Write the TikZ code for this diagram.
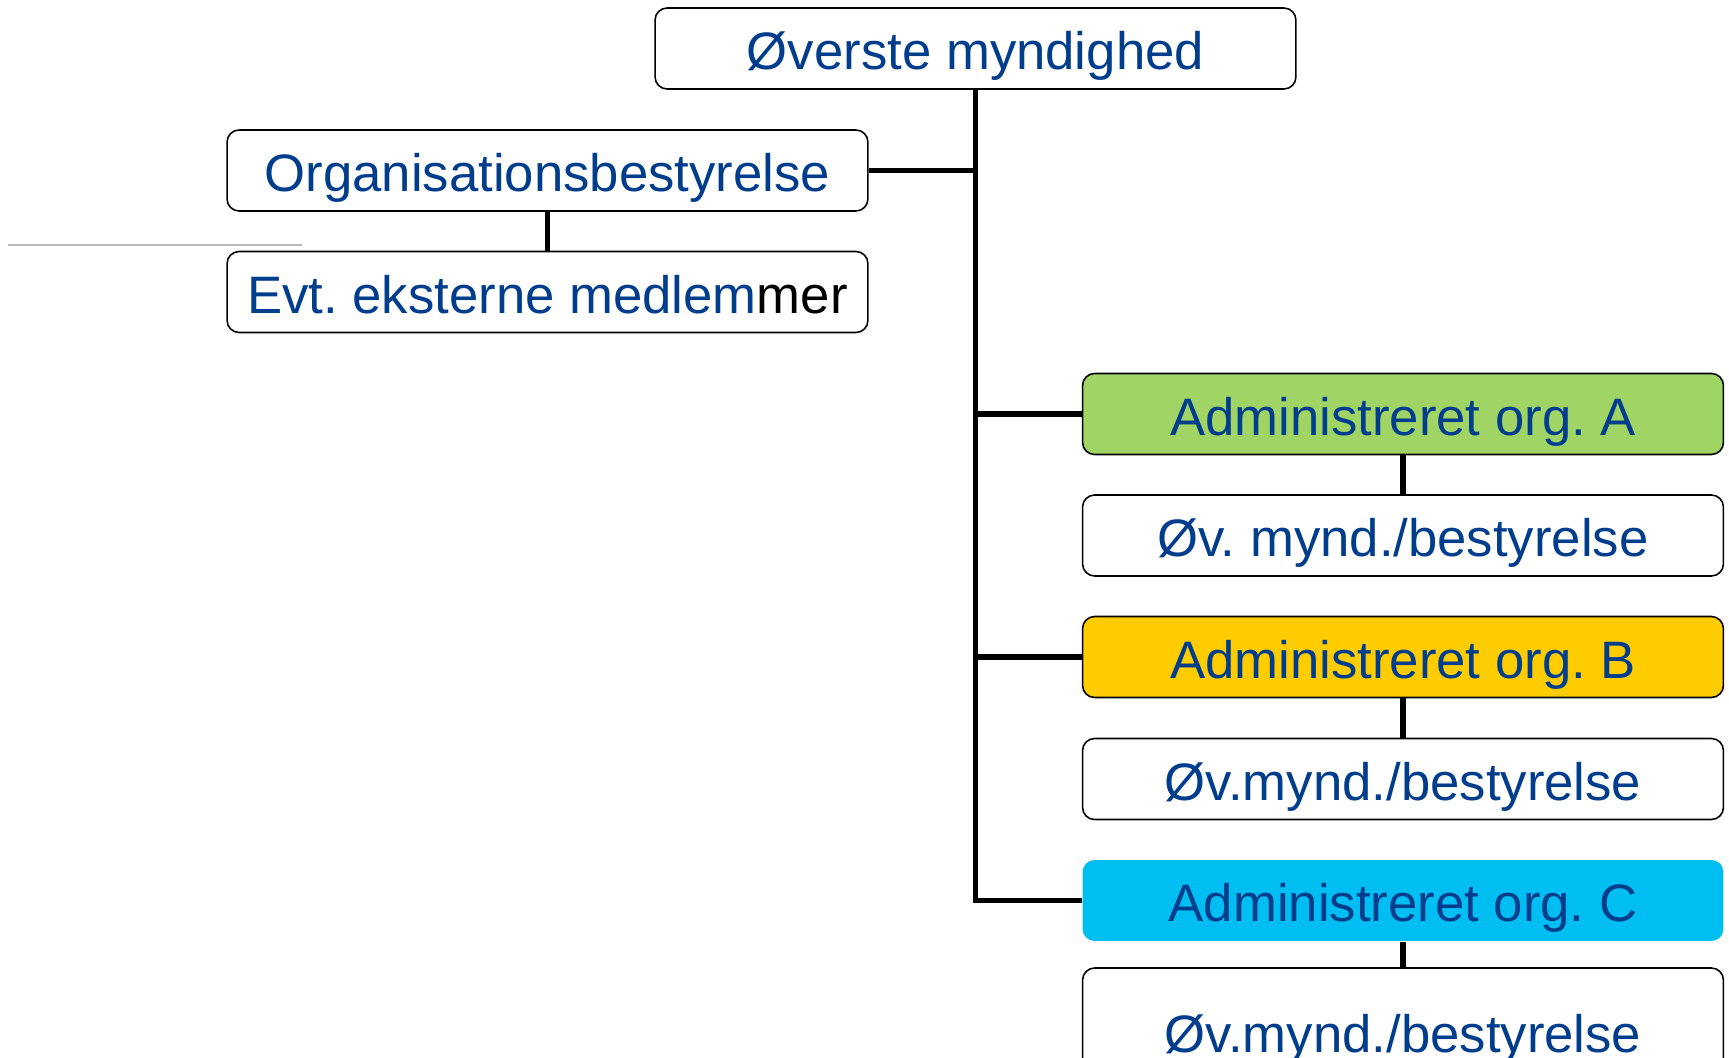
\documentclass[tikz,border=0pt]{standalone}
\usepackage{fontspec}
\setmainfont{Liberation Sans}
\frenchspacing
\definecolor{orgblue}{RGB}{0,61,140}
\definecolor{orggreen}{RGB}{160,213,102}
\definecolor{orgyellow}{RGB}{255,204,0}
\definecolor{orgcyan}{RGB}{0,190,242}
\begin{document}
\begin{tikzpicture}[x=0.02cm,y=-0.02cm,
    box/.style={draw=black,line width=0.9pt,rounded corners=0.24cm,fill=white,
        minimum width=12.82cm,minimum height=1.62cm,inner sep=0pt,
        text=orgblue,font=\fontsize{30}{36}\selectfont,text height=24pt,text depth=0pt},
    conn/.style={line width=3pt}]
        \useasboundingbox (0,0) rectangle (1729,1058);

        \node[box] (top) at (975.5,48.5) {Øverste myndighed};
        \node[box] (org) at (547.5,170.5) {Organisationsbestyrelse};
        \node[box] (evt) at (547.5,292) {Evt. eksterne medlem\textcolor{black}{mer}};

        \node[box,fill=orggreen] (admA) at (1403,414) {Administreret org. A};
        \node[box] (subA) at (1403,535.5) {Øv. mynd./bestyrelse};
        \node[box,fill=orgyellow] (admB) at (1403,657) {Administreret org. B};
        \node[box] (subB) at (1403,779) {Øv.mynd./bestyrelse};
        \node[box,draw=none,fill=orgcyan] (admC) at (1403,900.5) {Administreret org. C};
        \node[box,minimum height=2.52cm] (subC) at (1403,1031) {Øv.mynd./bestyrelse};

        \coordinate (greyL) at (8,245);
        \coordinate (greyR) at (302,245);
        \draw[line width=0.6pt,gray!55] (greyL)--(greyR);

        \draw[conn] (top.south) |- (org.east);
        \draw[conn] (top.south) |- (admA.west);
        \draw[conn] (top.south) |- (admB.west);
        \draw[conn] (top.south) |- (admC.west);
        \draw[conn] (org)--(evt);
        \draw[conn] (admA)--(subA);
        \draw[conn] (admB)--(subB);
        \draw[conn] (admC)--(subC);

\end{tikzpicture}
\end{document}
